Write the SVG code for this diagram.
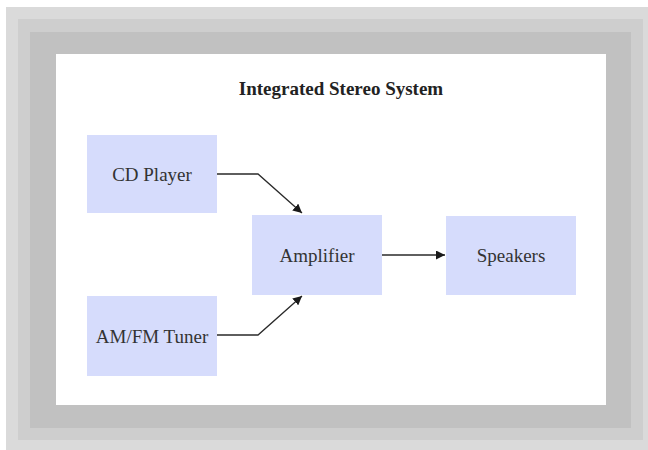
<svg xmlns="http://www.w3.org/2000/svg" width="648" height="450" viewBox="0 0 648 450">
<defs>
<marker id="arr" viewBox="0 0 10 10" refX="10" refY="5" markerWidth="9" markerHeight="9" markerUnits="userSpaceOnUse" orient="auto">
<path d="M0,0 L10,5 L0,10 z" fill="#1a1a1a"/>
</marker>
<style>
.box{fill:#d6dcfc;}
.lbl{font-family:"Liberation Serif","Times New Roman",serif;font-size:19px;fill:#333;text-anchor:middle;}
.title{font-family:"Liberation Serif","Times New Roman",serif;font-size:19px;font-weight:bold;fill:#222;text-anchor:middle;}
.conn{fill:none;stroke:#2a2a2a;stroke-width:1.3;marker-end:url(#arr);}
</style>
</defs>
<rect x="0" y="0" width="648" height="450" fill="#ffffff"/>
<g id="frame">
<rect x="6" y="7" width="642" height="443" fill="#dadada"/>
<rect x="18" y="19" width="625" height="421" fill="#cecece"/>
<rect x="30" y="32" width="601" height="396" fill="#c1c1c1"/>
<rect x="56" y="54" width="550" height="351" fill="#ffffff"/>
</g>
<text class="title" x="341" y="95">Integrated Stereo System</text>
<g id="cd">
<rect class="box" x="87" y="135" width="130" height="78"/>
<text class="lbl" x="152" y="181">CD Player</text>
</g>
<g id="tuner">
<rect class="box" x="87" y="296" width="130" height="80"/>
<text class="lbl" x="152" y="343">AM/FM Tuner</text>
</g>
<g id="amp">
<rect class="box" x="252" y="215" width="130" height="80"/>
<text class="lbl" x="317" y="262">Amplifier</text>
</g>
<g id="speakers">
<rect class="box" x="446" y="216" width="130" height="79"/>
<text class="lbl" x="511" y="262">Speakers</text>
</g>
<g id="connectors">
<polyline class="conn" points="217,174 258,174 302,213"/>
<polyline class="conn" points="217,335 258,335 302,296"/>
<line class="conn" x1="382" y1="255" x2="445" y2="255"/>
</g>
</svg>
